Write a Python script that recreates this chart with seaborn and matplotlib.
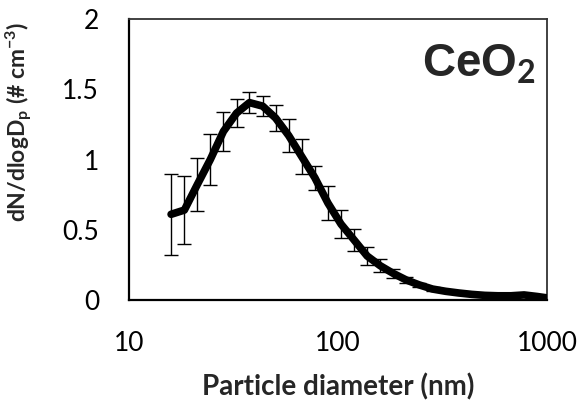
import numpy as np
import pandas as pd
import matplotlib
matplotlib.use("Agg")
import matplotlib.pyplot as plt
import seaborn as sns
from matplotlib.ticker import FixedLocator, FixedFormatter, NullLocator

# Particle diameter bins (nm)
diameter = [15.9, 18.4, 21.2, 24.5, 28.3, 32.7, 37.7, 43.6, 50.3, 58.1,
            67.1, 77.5, 89.5, 103.4, 119.4, 137.9, 159.2, 183.9, 212.4, 245.3,
            283.3, 327.2, 377.9, 436.5, 504.2, 582.3, 672.6, 776.8, 897.2, 1000.0]
# dN/dlogDp mean
dndlogdp = [0.61, 0.64, 0.82, 1.0, 1.2, 1.33, 1.405, 1.38, 1.295, 1.17,
            1.02, 0.87, 0.69, 0.54, 0.427, 0.313, 0.244, 0.189, 0.142, 0.107,
            0.078, 0.062, 0.05, 0.04, 0.033, 0.03, 0.03, 0.036, 0.025, 0.015]
# error (shown for bins up to ~300 nm)
err = [0.29, 0.24, 0.19, 0.18, 0.14, 0.10, 0.075, 0.07, 0.09, 0.12,
       0.125, 0.085, 0.12, 0.10, 0.08, 0.065, 0.046, 0.032, 0.022, 0.016,
       0.012]

x_ticks = [10, 100, 1000]
x_tick_labels = ["10", "100", "1000"]
y_ticks = [0, 0.5, 1, 1.5, 2]
y_tick_labels = ["0", "0.5", "1", "1.5", "2"]

df = pd.DataFrame({"d": diameter, "n": dndlogdp})

sns.set_style("white")
plt.rcParams['font.family'] = ['Lato', 'DejaVu Sans']
plt.rcParams['mathtext.fontset'] = 'custom'
plt.rcParams['mathtext.rm'] = 'Lato:bold'
plt.rcParams['mathtext.it'] = 'Lato:bold'
plt.rcParams['mathtext.bf'] = 'Lato:bold'
plt.rcParams['mathtext.default'] = 'bf'

fig = plt.figure(figsize=(5.82, 4.09), dpi=100)
ax = fig.add_axes([129/582, 1-300/409, (547-129)/582, (300-19)/409])

ne = len(err)
ax.errorbar(diameter[:ne], dndlogdp[:ne], yerr=err, fmt='none', ecolor='black',
            elinewidth=1.0, capsize=5, capthick=1.0, zorder=2)
sns.lineplot(data=df, x="d", y="n", ax=ax, color='black', linewidth=5.5,
             solid_capstyle='round', solid_joinstyle='round', zorder=3)

ax.set_xscale('log')
ax.set_xlim(10, 1000)
ax.set_ylim(0, 2)
ax.xaxis.set_major_locator(FixedLocator(x_ticks))
ax.xaxis.set_major_formatter(FixedFormatter(x_tick_labels))
ax.xaxis.set_minor_locator(NullLocator())
ax.set_yticks(y_ticks)
ax.set_yticklabels(y_tick_labels)

ax.tick_params(axis='both', which='major', direction='out', length=7.5, width=1.2,
               labelsize=19, colors='black')
ax.tick_params(axis='y', pad=14)
ax.tick_params(axis='x', pad=15)
for s in ['left', 'bottom']:
    ax.spines[s].set_linewidth(1.6)
    ax.spines[s].set_color('black')
for s in ['top', 'right']:
    ax.spines[s].set_linewidth(1.3)
    ax.spines[s].set_color('#333333')

ax.set_xlabel("Particle diameter (nm)", fontsize=20, fontweight='bold', labelpad=12)
ax.set_ylabel(r"dN/dlogD$_{p}$ (# cm$^{-3}$)", fontsize=16.5,
              fontweight='bold', labelpad=10)
ax.yaxis.set_label_coords(-0.225, (300-122)/281)

ax.text(0.974, (300-77)/281, r"CeO$_{\mathbf{2}}$", transform=ax.transAxes,
        ha='right', va='baseline', fontsize=33, fontweight='bold',
        family=['Liberation Sans', 'DejaVu Sans'])

fig.savefig("out.png", dpi=100)
